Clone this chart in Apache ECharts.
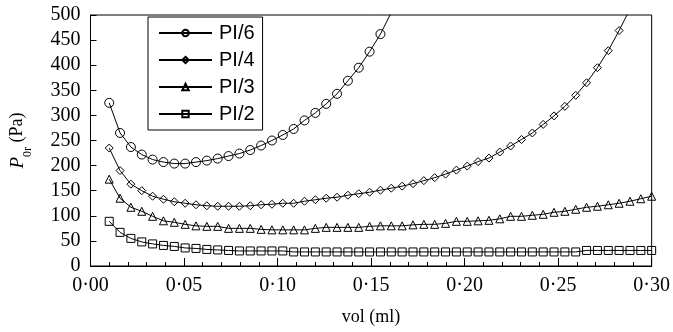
<!DOCTYPE html>
<html>
<head>
<meta charset="utf-8">
<script src="https://cdn.jsdelivr.net/npm/echarts@6/dist/echarts.min.js"></script>
<style>html,body{margin:0;padding:0;background:#fff;}#c{width:673px;height:332px;}</style>
</head>
<body>
<div id="c"></div>
<script>
var xValues = [0.0100,0.0158,0.0216,0.0274,0.0332,0.0390,0.0448,0.0506,0.0564,0.0622,
  0.0680,0.0738,0.0796,0.0854,0.0912,0.0970,0.1028,0.1086,0.1144,0.1202,
  0.1260,0.1318,0.1376,0.1434,0.1492,0.1550,0.1608,0.1666,0.1724,0.1782,
  0.1840,0.1898,0.1956,0.2014,0.2072,0.2130,0.2188,0.2246,0.2304,0.2362,
  0.2420,0.2478,0.2536,0.2594,0.2652,0.2710,0.2768,0.2826,0.2884,0.2942,0.3000];

var seriesNames = ['PI/6','PI/4','PI/3','PI/2'];

var pi6 = [325,265,237,222,212,207,204,204,207,210,214,219,224,231,240,250,261,273,290,305,
  323,343,369,395,427,462,505,null,null,null,null,null,null,null,null,null,null,null,null,null,
  null,null,null,null,null,null,null,null,null,null,null];
var pi4 = [235,190,163,150,139,133,128,125,122,120,119,119,119,120,122,123,125,125,129,132,
  135,137,141,144,147,151,155,159,164,170,176,183,191,199,208,215,227,239,252,265,
  282,299,318,340,365,395,429,469,512,null,null];
var pi3 = [173,135,117,109,99,90,87,83,80,79,79,75,75,75,73,72,72,72,72,75,
  77,77,77,77,79,80,80,80,82,83,83,85,89,89,90,91,94,99,99,101,
  103,107,109,113,117,119,122,125,129,134,139];
var pi2 = [89,67,55,48,44,41,39,36,35,33,32,31,30,30,30,30,30,28,28,28,
  28,28,28,28,28,28,28,28,28,28,28,28,28,28,28,28,28,28,28,28,
  28,28,28,28,31,31,31,31,31,31,31];

var xTickValues = [0,0.05,0.10,0.15,0.20,0.25,0.30];
var xTickLabels = ['0·00','0·05','0·10','0·15','0·20','0·25','0·30'];

var symbols = ['circle','diamond','triangle','rect'];
var symbolSizes = [9,8,8,8];
var allData = [pi6, pi4, pi3, pi2];

function pairs(arr){
  var out = [];
  for (var i = 0; i < xValues.length; i++) {
    if (arr[i] !== null) out.push([xValues[i], arr[i]]);
  }
  return out;
}

var chart = echarts.init(document.getElementById('c'), null, {renderer:'canvas'});
var series = seriesNames.map(function(n, k){
  return {
    name: n,
    type: 'line',
    data: pairs(allData[k]),
    symbol: symbols[k],
    symbolSize: symbolSizes[k],
    showAllSymbol: true,
    clip: true,
    lineStyle: {color:'#000', width:1},
    itemStyle: {color:'rgba(0,0,0,0)', borderColor:'#000', borderWidth:1},
    emphasis: {disabled:true},
    animation: false
  };
});

chart.setOption({
  animation: false,
  grid: {left:89, right:20, top:15, bottom:66, show:true, borderColor:'#000', borderWidth:1, backgroundColor:'transparent'},
  legend: {
    orient:'vertical', left:148, top:17,
    borderColor:'#000', borderWidth:1, padding:[6,8,6,10],
    itemWidth:53, itemHeight:8, itemGap:7,
    textStyle:{fontFamily:'Liberation Sans', fontSize:20, color:'#000', padding:[0,0,0,2]},
    data: seriesNames
  },
  xAxis: {
    type:'value', min:0, max:0.3, interval:0.05,
    name:'vol (ml)', nameLocation:'middle', nameGap:42,
    nameTextStyle:{fontFamily:'Liberation Serif', fontSize:18, color:'#000'},
    axisLine:{show:true, lineStyle:{color:'#000', width:1}},
    axisTick:{show:true, inside:true, length:8, lineStyle:{color:'#000'}},
    minorTick:{show:true, splitNumber:5, length:4, lineStyle:{color:'#000'}},
    splitLine:{show:false},
    axisLabel:{margin:10, fontFamily:'Liberation Serif', fontSize:20, color:'#000',
      formatter:function(v){
        for (var i=0;i<xTickValues.length;i++){ if (Math.abs(v-xTickValues[i])<1e-9) return xTickLabels[i]; }
        return '';
      }}
  },
  yAxis: {
    type:'value', min:0, max:500, interval:50,
    name:'{i|P}{s|0r}{n| (Pa)}', nameLocation:'middle', nameGap:62,
    nameTextStyle:{
      fontFamily:'Liberation Serif', fontSize:18, color:'#000',
      rich:{
        i:{fontFamily:'Liberation Serif', fontSize:19, fontStyle:'italic', color:'#000', lineHeight:22},
        s:{fontFamily:'Liberation Serif', fontSize:12, color:'#000', verticalAlign:'bottom', lineHeight:14, padding:[0,0,-5,0]},
        n:{fontFamily:'Liberation Serif', fontSize:18, color:'#000', lineHeight:22}
      }
    },
    axisLine:{show:true, lineStyle:{color:'#000', width:1}},
    axisTick:{show:true, inside:true, length:6, lineStyle:{color:'#000'}},
    splitLine:{show:false},
    axisLabel:{margin:10, fontFamily:'Liberation Serif', fontSize:20, color:'#000'}
  },
  series: series
});
</script>
</body>
</html>
